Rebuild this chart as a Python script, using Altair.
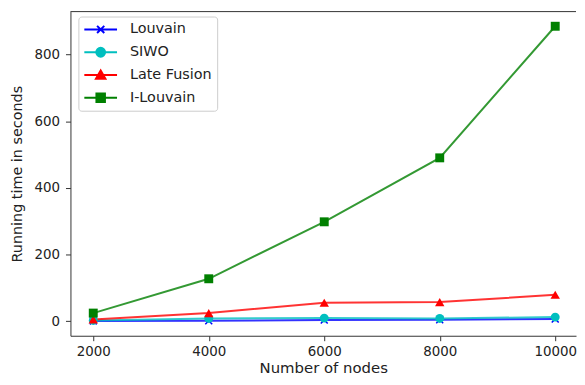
import altair as alt
import pandas as pd

# ---- data ----
nodes = [2000, 4000, 6000, 8000, 10000]
series = ["Louvain", "SIWO", "Late Fusion", "I-Louvain"]
louvain = [0.5, 1, 3, 4, 6]
siwo = [2, 8, 9, 8, 12]
late_fusion = [5, 24, 55, 57, 79]
i_louvain = [24, 127, 298, 490, 885]
x_ticks = [2000, 4000, 6000, 8000, 10000]
y_ticks = [0, 200, 400, 600, 800]

# ---- styles ----
colors = ["#0000ff", "#00bfbf", "#ff0000", "#008000"]
X_DOMAIN = [1605, 10360]
Y_DOMAIN = [-44, 929]
FONT = "DejaVu Sans"

# marker shapes on the data points
point_shapes = ["M-1,-1L1,1M-1,1L1,-1", "circle", "triangle-up", "square"]
point_filled = [False, True, True, True]
point_sizes = [49, 81, 90, 81]

# legend symbols: short line with a marker on it
LINE = "M-1,0L1,0"
legend_paths = [
    LINE + "M-0.22,-0.22L0.22,0.22M-0.22,0.22L0.22,-0.22",
    LINE + "M-0.27,0A0.27,0.27,0,1,0,0.27,0A0.27,0.27,0,1,0,-0.27,0Z",
    LINE + "M0,-0.28L0.29,0.22L-0.29,0.22Z",
    LINE + "M-0.26,-0.26L0.26,-0.26L0.26,0.26L-0.26,0.26Z",
]

rows = []
for name, vals in zip(series, [louvain, siwo, late_fusion, i_louvain]):
    for n, v in zip(nodes, vals):
        rows.append({"nodes": n, "time": v, "method": name})
df = pd.DataFrame(rows)

shape_expr = "'" + legend_paths[-1] + "'"
for name, p in reversed(list(zip(series[:-1], legend_paths[:-1]))):
    shape_expr = f"datum.value === '{name}' ? '{p}' : ({shape_expr})"

legend = alt.Legend(
    orient="none",
    legendX=8,
    legendY=5,
    symbolType={"expr": shape_expr},
    symbolSize=1089,
    symbolStrokeWidth=2,
    symbolOpacity=1,
    symbolFillColor={"expr": "scale('color', datum.value)"},
    symbolStrokeColor={"expr": "scale('color', datum.value)"},
    labelFont=FONT,
    labelFontSize=14.5,
    labelColor="#222222",
    labelOffset=12,
    padding=5,
    clipHeight=16,
    rowPadding=7,
    fillColor="white",
    strokeColor="#cccccc",
    cornerRadius=3,
)

xscale = alt.Scale(domain=X_DOMAIN, nice=False, zero=False)
yscale = alt.Scale(domain=Y_DOMAIN, nice=False, zero=False)
xaxis = alt.Axis(values=x_ticks, format="d")
yaxis = alt.Axis(values=y_ticks, format="d")
X_TITLE = "Number of nodes"
Y_TITLE = "Running time in seconds"

color = alt.Color("method:N", scale=alt.Scale(domain=series, range=colors),
                  legend=legend, title=None)

base = alt.Chart(df)
x_enc = alt.X("nodes:Q", scale=xscale, axis=xaxis, title=X_TITLE)
y_enc = alt.Y("time:Q", scale=yscale, axis=yaxis, title=Y_TITLE)

lines = base.mark_line(strokeWidth=2, opacity=0.8).encode(
    x=x_enc, y=y_enc, color=color, order="nodes:Q"
)

point_layers = []
for name, shp, fl, sz in zip(series, point_shapes, point_filled, point_sizes):
    point_layers.append(
        base.transform_filter(alt.datum.method == name)
        .mark_point(shape=shp, filled=fl, size=sz, strokeWidth=1.5, opacity=1)
        .encode(x=x_enc, y=y_enc, color=color)
    )

top_rule = alt.Chart(pd.DataFrame({"top": [Y_DOMAIN[1]]})).mark_rule(
    color="#333333", strokeWidth=1
).encode(y=alt.Y("top:Q", scale=yscale, axis=yaxis, title=Y_TITLE))

chart = (
    alt.layer(lines, *point_layers, top_rule)
    .properties(width=510, height=327,
                padding={"left": 1, "top": 1, "right": 0, "bottom": 0})
    .configure_view(stroke=None)
    .configure_axis(
        grid=False,
        domainColor="#333333",
        tickColor="#333333",
        tickSize=5,
        labelFont=FONT,
        labelFontSize=13.5,
        labelColor="#222222",
        titleFont=FONT,
        titleFontSize=14.5,
        titleFontWeight="normal",
        titleColor="#222222",
        labelFlush=False,
        labelOverlap=False,
    )
    .configure_axisX(labelPadding=4, titlePadding=3, titleFontSize=15)
    .configure_axisY(labelPadding=6, titlePadding=10)
)

chart.save("out.html", embed_options={"renderer": "svg", "actions": False})
